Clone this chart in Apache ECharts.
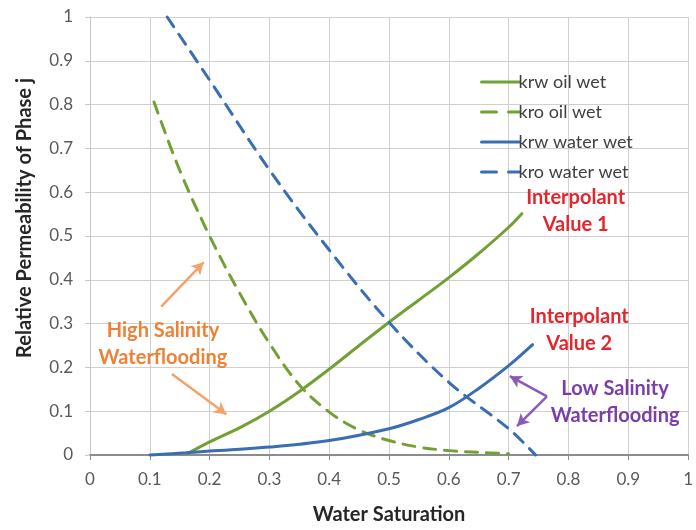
<!DOCTYPE html>
<html>
<head>
<meta charset="utf-8">
<script src="https://cdn.jsdelivr.net/npm/echarts@6/dist/echarts.min.js"></script>
<style>html,body{margin:0;padding:0;background:#fff}#c{width:696px;height:530px}</style>
</head>
<body>
<div id="c"></div>
<script>
const xTicks = [0, 0.1, 0.2, 0.3, 0.4, 0.5, 0.6, 0.7, 0.8, 0.9, 1];
const seriesNames = ['krw oil wet', 'kro oil wet', 'krw water wet', 'kro water wet'];
const krwOilWet = [[0.163,0.003],[0.2,0.03],[0.25,0.062],[0.3,0.1],[0.35,0.145],[0.4,0.196],[0.45,0.25],[0.5,0.303],[0.55,0.354],[0.6,0.405],[0.65,0.46],[0.7,0.52],[0.722,0.551]];
const kroOilWet = [[0.107,0.806],[0.15,0.65],[0.2,0.5],[0.25,0.37],[0.3,0.255],[0.35,0.16],[0.4,0.098],[0.45,0.057],[0.5,0.033],[0.55,0.018],[0.6,0.01],[0.65,0.006],[0.7,0.003]];
const krwWaterWet = [[0.1,0],[0.16,0.005],[0.2,0.009],[0.3,0.018],[0.4,0.033],[0.5,0.06],[0.55,0.081],[0.6,0.108],[0.65,0.152],[0.7,0.204],[0.74,0.252]];
const kroWaterWet = [[0.129,1.0],[0.2,0.856],[0.3,0.651],[0.4,0.468],[0.5,0.303],[0.6,0.166],[0.7,0.06],[0.745,0.0]];
const notes = [
  {lines:['Interpolant','Value 1'], at:[0.812,0.558], color:'#e3262e'},
  {lines:['Interpolant','Value 2'], at:[0.818,0.285], color:'#e3262e'},
  {lines:['High Salinity','Waterflooding'], at:[0.122,0.253], color:'#ee8136'},
  {lines:['Low Salinity','Waterflooding'], at:[0.878,0.121], color:'#7a3ea6'}
];
const arrows = [
  {from:[0.119,0.339], to:[0.190,0.440], color:'#f4a26a'},
  {from:[0.137,0.185], to:[0.228,0.093], color:'#f4a26a'},
  {from:[0.764,0.134], to:[0.702,0.180], color:'#8b5ab8'},
  {from:[0.764,0.134], to:[0.714,0.066], color:'#8b5ab8'}
];

const GREEN = '#73a035', BLUE = '#3a6db3';
const FONT = 'Lato';
const chart = echarts.init(document.getElementById('c'));
function lineSeries(name, data, color, dashed) {
  return {
    name, type:'line', data, smooth:0.35, symbol:'none', clip:false,
    lineStyle:{color, width:3, type: dashed ? [12,9] : 'solid', cap:'round'},
    itemStyle:{color}, z:3
  };
}
const arrowSeries = {
  type:'line', data:[], silent:true, legendHoverLink:false,
  markLine:{
    silent:true, animation:false, symbolSize:[10,12],
    label:{show:false},
    data: arrows.map(a => [
      {coord:a.from, symbol:'none', lineStyle:{color:a.color, width:2.5, type:'solid'}},
      {coord:a.to, symbol:'arrow'}
    ])
  }
};
chart.setOption({
  animation:false,
  textStyle:{fontFamily:FONT},
  grid:{left:90, right:1, top:17, bottom:75, containLabel:false},
  legend:{
    orient:'vertical', left:475, top:68, itemWidth:38, itemHeight:14, itemGap:12,
    itemStyle:{opacity:0},
    data: seriesNames.map((n, i) => ({name:n, lineStyle:{width:3, type: i % 2 ? [15,12] : 'solid'}})),
    textStyle:{fontFamily:FONT, fontSize:18, color:'#404040', padding:[0,0,0,-6]}
  },
  xAxis:{
    type:'value', min:0, max:1, interval:0.1,
    name:'Water Saturation', nameLocation:'middle', nameGap:50,
    nameTextStyle:{fontFamily:FONT, fontSize:20, fontWeight:'bold', color:'#262626'},
    axisLine:{show:true, onZero:false, lineStyle:{color:'#8c8c8c', width:2}},
    axisTick:{show:true, length:5, lineStyle:{color:'#8c8c8c'}},
    axisLabel:{fontFamily:FONT, fontSize:17, color:'#595959', margin:16,
      formatter: v => String(+v.toFixed(1))},
    splitLine:{show:true, lineStyle:{color:'#d0d0d0', width:1}}
  },
  yAxis:{
    type:'value', min:0, max:1, interval:0.1,
    name:'Relative Permeability of Phase j', nameLocation:'middle', nameGap:55,
    nameTextStyle:{fontFamily:FONT, fontSize:20, fontWeight:'bold', color:'#262626', padding:[0,0,0,36]},
    axisLine:{show:true, lineStyle:{color:'#c8c8c8', width:1}},
    axisTick:{show:true, length:5, lineStyle:{color:'#c8c8c8'}},
    axisLabel:{fontFamily:FONT, fontSize:17, color:'#595959', margin:17,
      formatter: v => String(+v.toFixed(1))},
    splitLine:{show:true, lineStyle:{color:'#d0d0d0', width:1}}
  },
  series:[
    lineSeries(seriesNames[0], krwOilWet, GREEN, false),
    lineSeries(seriesNames[1], kroOilWet, GREEN, true),
    lineSeries(seriesNames[2], krwWaterWet, BLUE, false),
    lineSeries(seriesNames[3], kroWaterWet, BLUE, true),
    arrowSeries
  ]
});
const graphics = notes.map(n => {
  const p = chart.convertToPixel({gridIndex:0}, n.at);
  return {
    type:'text', x:p[0], y:p[1], z:10,
    style:{text:n.lines.join('\n'), fill:n.color, font:'bold 20px ' + FONT,
      align:'center', verticalAlign:'middle', lineHeight:27}
  };
});
chart.setOption({graphic:graphics});
</script>
</body>
</html>
